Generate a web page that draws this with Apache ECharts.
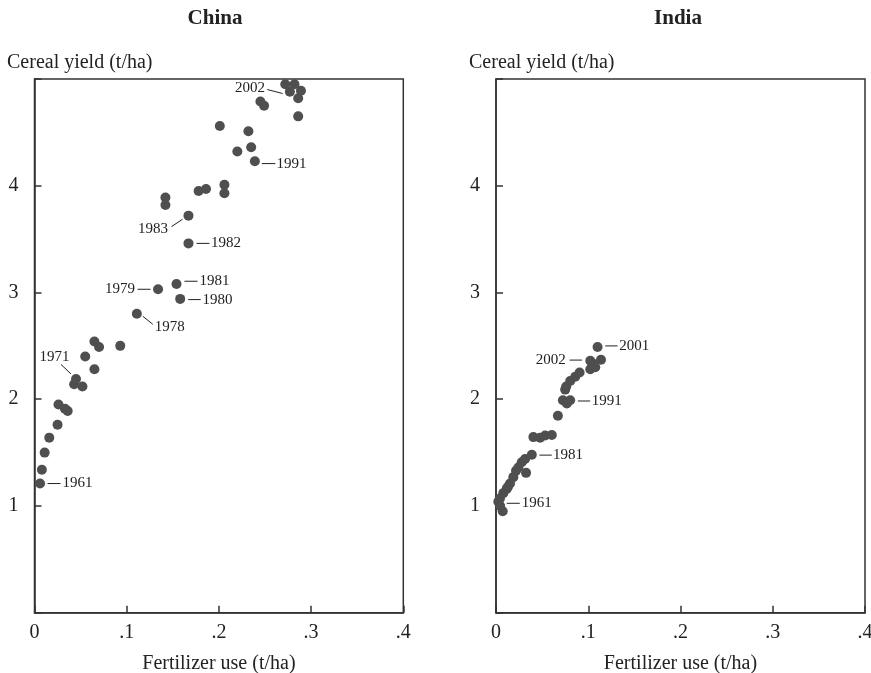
<!DOCTYPE html>
<html>
<head>
<meta charset="utf-8">
<script src="https://cdn.jsdelivr.net/npm/echarts@6/dist/echarts.min.js"></script>
<style>
html,body{margin:0;padding:0;background:#fff;}
#chart{width:871px;height:673px;}
</style>
</head>
<body>
<div id="chart"></div>
<script>
// ---- Data ----
const panelTitles = ['China', 'India'];
const yAxisName = 'Cereal yield (t/ha)';
const xAxisName = 'Fertilizer use (t/ha)';
const xTicks = [0, 0.1, 0.2, 0.3, 0.4];
const yTicks = [1, 2, 3, 4];

// China: fertilizer use (t/ha), cereal yield (t/ha)
const chinaX = [0.006, 0.008, 0.011, 0.016, 0.025, 0.026, 0.033, 0.036, 0.043, 0.045,
  0.052, 0.055, 0.065, 0.065, 0.070, 0.093, 0.111, 0.134, 0.158, 0.154,
  0.167, 0.167, 0.142, 0.142, 0.178, 0.186, 0.206, 0.206, 0.239, 0.220,
  0.235, 0.232, 0.201, 0.286, 0.249, 0.245, 0.286, 0.289, 0.277, 0.272, 0.282];
const chinaY = [1.21, 1.34, 1.50, 1.64, 1.76, 1.95, 1.91, 1.89, 2.14, 2.19,
  2.12, 2.40, 2.28, 2.54, 2.49, 2.50, 2.80, 3.03, 2.94, 3.08,
  3.46, 3.72, 3.82, 3.89, 3.95, 3.97, 3.93, 4.01, 4.23, 4.32,
  4.36, 4.51, 4.56, 4.65, 4.75, 4.79, 4.82, 4.89, 4.88, 4.95, 4.95];
const chinaLabelText = ['1961', '1971', '1978', '1979', '1980', '1981', '1982', '1983', '1991', '2002'];
const chinaLabelIdx  = [0, 9, 16, 17, 18, 19, 20, 21, 28, 38];

// India
const indiaX = [0.0025, 0.0073, 0.0045, 0.0043, 0.0079, 0.0116, 0.0130, 0.0152, 0.0188, 0.0217,
  0.0242, 0.0279, 0.0315, 0.0326, 0.0388, 0.0405, 0.0478, 0.0533, 0.0605, 0.0671,
  0.0725, 0.0804, 0.0768, 0.0750, 0.0761, 0.0804, 0.0859, 0.0906, 0.1022, 0.1076,
  0.1058, 0.1022, 0.1138, 0.1101];
const indiaY = [1.04, 0.95, 1.00, 1.07, 1.12, 1.16, 1.18, 1.21, 1.27, 1.33,
  1.36, 1.41, 1.44, 1.31, 1.48, 1.645, 1.64, 1.66, 1.665, 1.845,
  1.99, 1.99, 1.96, 2.09, 2.12, 2.17, 2.21, 2.25, 2.28, 2.30,
  2.33, 2.36, 2.37, 2.49];
const indiaLabelText = ['1961', '1981', '1991', '2002', '2001'];
const indiaLabelIdx  = [0, 14, 21, 31, 33];

// ---- Styles ----
const FONT = '"Liberation Serif", "DejaVu Serif", serif';
const INK = '#222';
const DOT = '#4f4f4f';
const FRAME = '#333';

// label placements (pixel offsets from the point): side 'r' = line to the right then text, 'l' = text to the left
const place = {
  china: {
    '1961': {side:'r', l:[7.5,0,20.5,0], t:[22.5,0]},
    '1971': {side:'l', l:[-15,-14.5,-5,-5], t:[-6.5,-21.5]},
    '1978': {side:'r', l:[6,2.5,16,10.5], t:[18,13.5]},
    '1979': {side:'l', l:[-20.5,0,-7.5,0], t:[-23,0]},
    '1980': {side:'r', l:[8,0.7,20.5,0.7], t:[22.3,0.7]},
    '1981': {side:'r', l:[8,-2.7,21,-2.7], t:[23,-2.7]},
    '1982': {side:'r', l:[8,0,21,0], t:[22.5,0]},
    '1983': {side:'l', l:[-17,11,-6,3.7], t:[-20.5,13.7]},
    '1991': {side:'r', l:[7,2.4,20.5,2.4], t:[21.7,2.4]},
    '2002': {side:'l', l:[-22.7,-2.3,-7.3,1.7], t:[-25,-3.3]}
  },
  india: {
    '1961': {side:'r', l:[8.4,1.6,21.5,1.6], t:[23.4,1.6]},
    '1981': {side:'r', l:[7.6,0.4,20,0.4], t:[21.2,0.4]},
    '1991': {side:'r', l:[7.7,0.7,20,0.7], t:[21.7,0.7]},
    '2001': {side:'r', l:[7.7,-1,20,-1], t:[21.7,-1]},
    '2002': {side:'l', l:[-20.7,-0.7,-8.3,-0.7], t:[-24.5,-0.7]}
  }
};

function pairs(X, Y) { return X.map((x, i) => [x, Y[i]]); }

function labelSeries(key, X, Y, texts, idx, gi) {
  return {
    type: 'custom',
    xAxisIndex: gi, yAxisIndex: gi,
    silent: true, z: 5, clip: false,
    data: idx.map(i => [X[i], Y[i]]),
    renderItem: function (params, api) {
      const p = api.coord([api.value(0), api.value(1)]);
      const txt = texts[params.dataIndex];
      const s = place[key][txt];
      return {
        type: 'group',
        children: [
          {type: 'line', shape: {x1: p[0] + s.l[0], y1: p[1] + s.l[1], x2: p[0] + s.l[2], y2: p[1] + s.l[3]},
           style: {stroke: INK, lineWidth: 1}},
          {type: 'text', x: p[0] + s.t[0], y: p[1] + s.t[1],
           style: {text: txt, fill: INK, font: '15px ' + FONT,
                   align: s.side === 'r' ? 'left' : 'right', verticalAlign: 'middle'}}
        ]
      };
    }
  };
}

const grids = [
  {left: 34.5, right: 871 - 403.3, top: 79, bottom: 673 - 612.7},
  {left: 496, right: 871 - 865, top: 79, bottom: 673 - 612.7}
];

function xAx(gi) {
  return {
    gridIndex: gi, type: 'value', min: xTicks[0], max: xTicks[xTicks.length - 1], interval: 0.1,
    name: xAxisName, nameLocation: 'middle', nameGap: 41,
    nameTextStyle: {fontFamily: FONT, fontSize: 20, color: INK},
    axisLine: {show: true, lineStyle: {color: FRAME, width: 1.5}},
    axisTick: {show: true, inside: true, length: 7, lineStyle: {color: FRAME, width: 1.5}},
    axisLabel: {margin: 10, fontFamily: FONT, fontSize: 20, color: INK,
      formatter: v => v === 0 ? '0' : '.' + Math.round(v * 10)},
    splitLine: {show: false}
  };
}
function yAx(gi) {
  return {
    gridIndex: gi, type: 'value', min: 0, max: 5, interval: 1,
    axisLine: {show: true, lineStyle: {color: FRAME, width: 1.5}},
    axisTick: {show: true, inside: true, length: 7, lineStyle: {color: FRAME, width: 1.5}},
    axisLabel: {margin: 16, fontFamily: FONT, fontSize: 20, color: INK,
      formatter: v => yTicks.indexOf(v) >= 0 ? String(v) : ''},
    splitLine: {show: false}
  };
}

const chart = echarts.init(document.getElementById('chart'), null, {renderer: 'canvas'});
chart.setOption({
  animation: false,
  backgroundColor: '#fff',
  title: [
    {text: panelTitles[0], left: 210, top: 3, textAlign: 'center',
     textStyle: {fontFamily: FONT, fontWeight: 'bold', fontSize: 21, color: INK}},
    {text: panelTitles[1], left: 673, top: 3, textAlign: 'center',
     textStyle: {fontFamily: FONT, fontWeight: 'bold', fontSize: 21, color: INK}},
    {text: yAxisName, left: 2, top: 48,
     textStyle: {fontFamily: FONT, fontWeight: 'normal', fontSize: 20, color: INK}},
    {text: yAxisName, left: 464, top: 48,
     textStyle: {fontFamily: FONT, fontWeight: 'normal', fontSize: 20, color: INK}}
  ],
  grid: grids.map(g => Object.assign({show: true, containLabel: false, outerBoundsMode: 'none',
    borderColor: FRAME, borderWidth: 1.5, backgroundColor: 'transparent'}, g)),
  xAxis: [xAx(0), xAx(1)],
  yAxis: [yAx(0), yAx(1)],
  series: [
    {type: 'scatter', xAxisIndex: 0, yAxisIndex: 0, data: pairs(chinaX, chinaY),
     symbolSize: 10, itemStyle: {color: DOT, opacity: 1}, z: 3},
    {type: 'scatter', xAxisIndex: 1, yAxisIndex: 1, data: pairs(indiaX, indiaY),
     symbolSize: 10, itemStyle: {color: DOT, opacity: 1}, z: 3},
    labelSeries('china', chinaX, chinaY, chinaLabelText, chinaLabelIdx, 0),
    labelSeries('india', indiaX, indiaY, indiaLabelText, indiaLabelIdx, 1)
  ]
});
</script>
</body>
</html>
